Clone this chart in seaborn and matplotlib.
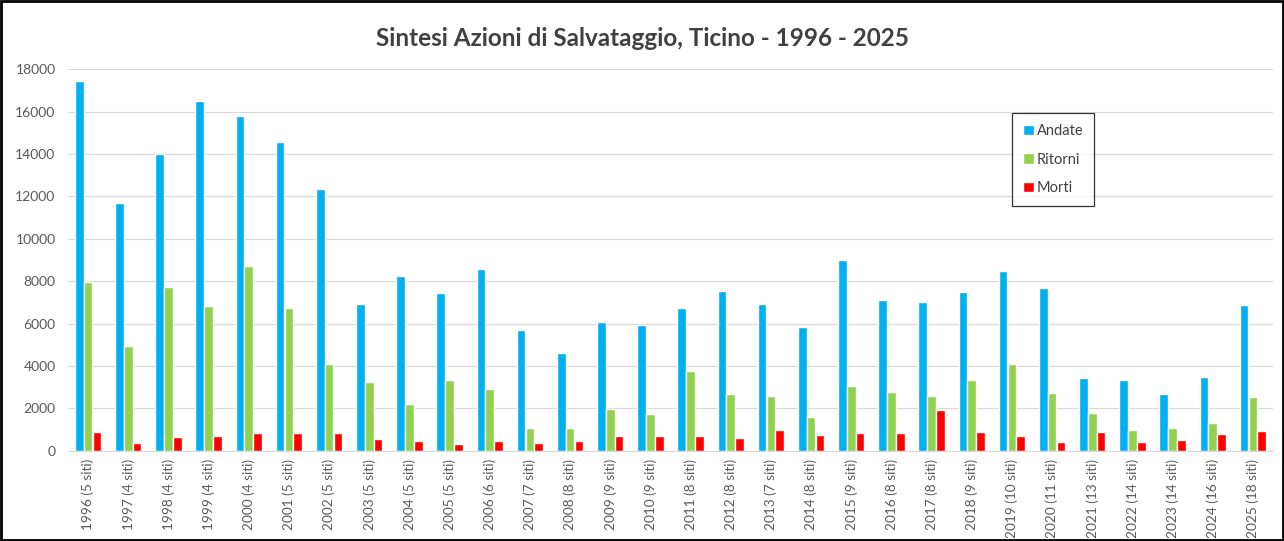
import numpy as np
import pandas as pd
import matplotlib
matplotlib.use("Agg")
import matplotlib.pyplot as plt
from matplotlib.patches import Rectangle
import seaborn as sns

years = list(range(1996, 2026))
siti = [5, 4, 4, 4, 4, 5, 5, 5, 5, 5, 6, 7, 8, 9, 9,
        8, 8, 7, 8, 9, 8, 8, 9, 10, 11, 13, 14, 14, 16, 18]
andate = [17450, 11700, 14000, 16500, 15800, 14550, 12350, 6900, 8250, 7450,
          8570, 5700, 4600, 6080, 5930, 6750, 7540, 6910, 5840, 9000,
          7100, 7020, 7480, 8500, 7680, 3450, 3320, 2660, 3480, 6880]
ritorni = [7980, 4940, 7730, 6830, 8720, 6750, 4090, 3230, 2200, 3320,
           2900, 1090, 1060, 1980, 1750, 3760, 2690, 2580, 1580, 3040,
           2760, 2580, 3350, 4090, 2710, 1760, 990, 1060, 1290, 2520]
morti = [870, 350, 630, 680, 850, 850, 820, 570, 440, 330,
         440, 380, 440, 710, 690, 680, 580, 960, 720, 820,
         820, 1920, 870, 680, 400, 870, 400, 490, 790, 920]
series_names = ["Andate", "Ritorni", "Morti"]
colors = ["#00B0F0", "#92D050", "#FF0000"]

labels = [f"{y} ({s} siti)" for y, s in zip(years, siti)]
df = pd.DataFrame({"label": labels, "Andate": andate, "Ritorni": ritorni, "Morti": morti})
long = df.melt(id_vars="label", var_name="serie", value_name="valore")

sns.set_style("white")
plt.rcParams["font.family"] = ["Lato", "DejaVu Sans"]

fig = plt.figure(figsize=(12.84, 5.41), dpi=100)
ax = fig.add_axes([68 / 1284, 90.3 / 541, 1205 / 1284, 381.4 / 541])

sns.barplot(data=long, x="label", y="valore", hue="serie", hue_order=series_names,
            palette=colors, width=0.66, gap=0.02, saturation=1, ax=ax, legend=True)

ax.set_ylim(0, 18000)
ax.set_xlim(-0.5, len(labels) - 0.5)
ax.set_yticks(np.arange(0, 18001, 2000))
ax.yaxis.grid(True, color="#d9d9d9", linewidth=0.9)
ax.set_axisbelow(True)
for s in ["top", "right", "left"]:
    ax.spines[s].set_visible(False)
ax.spines["bottom"].set_color("#d9d9d9")
ax.set_xlabel("")
ax.set_ylabel("")
ax.tick_params(axis="x", rotation=90, labelsize=9.8, colors="#595959", length=0, pad=6)
ax.tick_params(axis="y", labelsize=10, colors="#595959", length=0, pad=9)

leg = ax.legend(loc="upper left", bbox_to_anchor=(1012 / 1284, 1 - 113 / 541),
                bbox_transform=fig.transFigure, frameon=True, fancybox=False,
                fontsize=10.5, handlelength=0.75, handleheight=0.75, handletextpad=0.2,
                labelspacing=1.0, borderpad=0.75, borderaxespad=0, title=None)
leg.get_frame().set_edgecolor("black")
leg.get_frame().set_linewidth(0.9)
for t in leg.get_texts():
    t.set_color("#404040")

fig.text(0.5, 1 - 38 / 541, "Sintesi Azioni di Salvataggio, Ticino - 1996 - 2025",
         ha="center", va="center", fontsize=17.5, fontweight="bold", color="#404040")

fig.patches.append(Rectangle((0.001, 0.002), 0.998, 0.996, transform=fig.transFigure,
                             fill=False, edgecolor="black", linewidth=2))

fig.savefig("out.png", dpi=100)
